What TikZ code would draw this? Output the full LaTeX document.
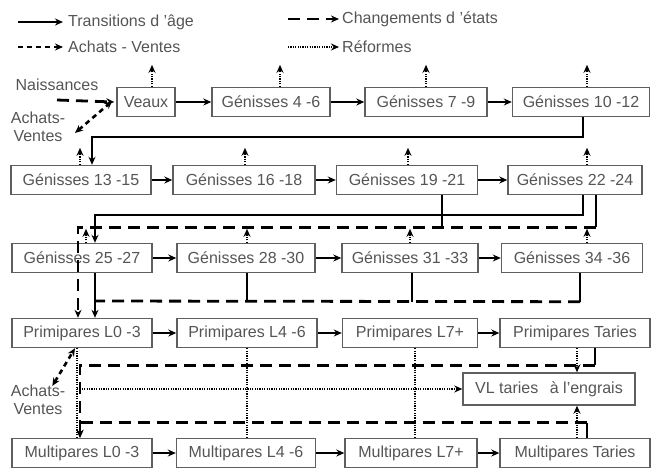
\documentclass[tikz,border=0pt]{standalone}
\usepackage{fontspec}
\setmainfont{Liberation Sans}
\usetikzlibrary{arrows.meta,calc,positioning}
\definecolor{boxgray}{RGB}{95,95,95}
\definecolor{txtgray}{RGB}{85,85,85}

\begin{document}
\begin{tikzpicture}[x=1pt, y=-1pt,
  box/.style={draw=boxgray, line width=1.4pt, minimum height=29pt, inner sep=0pt,
              text=txtgray, font=\fontsize{16}{18}\selectfont},
  lbl/.style={text=txtgray, font=\fontsize{16}{18}\selectfont, align=center, inner sep=0pt},
  tip/.style={-{Stealth[length=8pt,width=7pt]}},
  lien/.style={line width=2.4pt},
  age/.style={lien, tip},
  etat/.style={line width=2.8pt, dash pattern=on 12pt off 7pt},
  achat/.style={line width=2.6pt, dash pattern=on 5pt off 4pt},
  reforme/.style={line width=2pt, dash pattern=on 1.2pt off 1.2pt}
]
\useasboundingbox (0,0) rectangle (652,467);

% Legend
\node[lbl, anchor=west] (lage) at (68,22) {Transitions d 'âge};
\node[lbl, anchor=west] (lachat) at (68,47) {Achats - Ventes};
\node[lbl, anchor=west] (letat) at (342,19) {Changements d 'états};
\node[lbl, anchor=west] (lref) at (342,47) {Réformes};
\coordinate (l1) at (18,22);
\coordinate (l2) at (18,47);
\coordinate (l3) at (288,19);
\coordinate (l4) at (288,47);
\draw[age, shorten >=5pt] (l1) -- (lage.west);
\draw[achat, tip, shorten >=5pt] (l2) -- (lachat.west);
\draw[etat, tip, shorten >=3pt] (l3) -- (letat.west);
\draw[reforme, tip, shorten >=3pt] (l4) -- (lref.west);

% Rows of boxes
\node[box, minimum width=58pt] at (146,102) (veaux) {Veaux};
\node[box, minimum width=118pt] at (271,102) (g46) {Génisses 4 -6};
\node[box, minimum width=122pt] at (426,102) (g79) {Génisses 7 -9};
\node[box, minimum width=137pt] at (581,102) (g1012) {Génisses 10 -12};

\node[box, minimum width=140pt] at (81,180) (g1315) {Génisses 13 -15};
\node[box, minimum width=142pt] at (244,180) (g1618) {Génisses 16 -18};
\node[box, minimum width=141pt] at (407,180) (g1921) {Génisses 19 -21};
\node[box, minimum width=134pt] at (575,180) (g2224) {Génisses 22 -24};

\node[box, minimum width=140pt] at (82,258) (g2527) {Génisses 25 -27};
\node[box, minimum width=138pt] at (246,258) (g2830) {Génisses 28 -30};
\node[box, minimum width=136pt] at (410,258) (g3133) {Génisses 31 -33};
\node[box, minimum width=141pt] at (572,258) (g3436) {Génisses 34 -36};

\node[box, minimum width=140pt] at (82,333) (p03) {Primipares L0 -3};
\node[box, minimum width=140pt] at (247,333) (p46) {Primipares L4 -6};
\node[box, minimum width=135pt] at (410,333) (p7) {Primipares L7+};
\node[box, minimum width=150pt] at (575,333) (ptar) {Primipares Taries};

\node[box, minimum width=172pt, minimum height=32pt] at (549,389) (vl) {VL taries \, à l'engrais};

\node[box, minimum width=140pt] at (82,453) (m03) {Multipares L0 -3};
\node[box, minimum width=139pt] at (246,453) (m46) {Multipares L4 -6};
\node[box, minimum width=132pt] at (411,453) (m7) {Multipares L7+};
\node[box, minimum width=150pt] at (575,453) (mtar) {Multipares Taries};

% Entries
\node[lbl] at (57,85) (nais) {Naissances};
\node[lbl] at (38,127) (av1) {Achats-\\Ventes};
\node[lbl] at (38,400) (av2) {Achats-\\Ventes};
\coordinate (nais0) at (57,100);
\coordinate (av1a) at (75,133);
\draw[etat, tip] (nais0) -- ([xshift=-2pt]veaux.west);
\draw[achat, {Stealth[length=8pt,width=7pt]}-{Stealth[length=8pt,width=7pt]}] (av1a) -- ([xshift=-4pt,yshift=1pt]veaux.west);
\draw[achat, {Stealth[length=8pt,width=7pt]}-{Stealth[length=8pt,width=7pt]}] ([xshift=-13pt,yshift=-1pt]av2.north east) -- ([xshift=-7pt]p03.south);

% Transitions d'age
\draw[age] (veaux) -- (g46);
\draw[age] (g46) -- (g79);
\draw[age] (g79) -- (g1012);
\draw[age] ([xshift=2pt]g1012.south) -- ++(0,20) -| ([xshift=11pt]g1315.north);
\draw[age] (g1315) -- (g1618);
\draw[age] (g1618) -- (g1921);
\draw[age] (g1921) -- (g2224);
\draw[age] ([xshift=8pt]g2224.south) -- ++(0,20) -| ([xshift=13pt]g2527.north);
\draw[age] (g2527) -- (g2830);
\draw[age] (g2830) -- (g3133);
\draw[age] (g3133) -- (g3436);
\draw[age] ([xshift=13pt]g2527.south) -- ([xshift=13pt]p03.north);
\draw[age] (p03) -- (p46);
\draw[age] (p46) -- (p7);
\draw[age] (p7) -- (ptar);
\draw[age] (m03) -- (m46);
\draw[age] (m46) -- (m7);
\draw[age] (m7) -- (mtar);

% Changements d'etats
\draw[lien] ([xshift=21pt]g2224.south) -- ++(0,32) coordinate (e1);
\draw[lien] ([xshift=35pt]g1921.south) -- ++(0,32);
\draw[etat, tip] (e1) -| ([xshift=-4pt]p03.north);
\coordinate (e2) at (95,301);
\draw[lien] ([xshift=8pt]g3436.south) -- ++(0,28.5) coordinate (e3);
\draw[lien] ([xshift=1pt]g2830.south) -- ++(0,28.5);
\draw[lien] ([xshift=2pt]g3133.south) -- ++(0,28.5);
\draw[etat] (e3) -- (e2);
\draw[lien] ([xshift=20pt]ptar.south) -- ++(0,17) coordinate (e4);
\draw[etat, tip] (e4) -| ([xshift=-2pt]m03.north);
\draw[lien] ([xshift=12pt]mtar.north) -- ++(0,-15) coordinate (e5);
\draw[etat, tip] (e5) -| ([xshift=-2pt]m03.north);

% Reformes
\foreach \n/\d in {veaux/6, g46/9, g79/0, g1012/6}
  \draw[reforme, tip] ([xshift=\d pt]\n.north) -- ++(0,-22);
\foreach \n/\d in {g1315/-1, g1618/1, g1921/1, g2224/12}
  \draw[reforme, tip] ([xshift=\d pt]\n.north) -- ++(0,-17);
\foreach \n/\d in {g2527/4, g2830/1, g3133/0, g3436/15}
  \draw[reforme, tip] ([xshift=\d pt]\n.north) -- ++(0,-14);
\coordinate (r0) at (77,389);
\draw[reforme] ([xshift=-5pt]p03.south) -- (r0);
\draw[reforme] ([xshift=-5pt]m03.north) -- (r0);
\draw[reforme, tip] (r0) -- (vl.west);
\draw[reforme] (p46.south) -- ++(0,41.5);
\draw[reforme] ([xshift=1pt]m46.north) -- ++(0,-49.5);
\draw[reforme] ([xshift=5pt]p7.south) -- ++(0,41.5);
\draw[reforme] ([xshift=4pt]m7.north) -- ++(0,-49.5);
\draw[reforme, tip] ([xshift=2pt]ptar.south) -- ([xshift=28pt]vl.north);
\draw[reforme, tip] ([xshift=2pt]mtar.north) -- ([xshift=28pt]vl.south);

\end{tikzpicture}
\end{document}
